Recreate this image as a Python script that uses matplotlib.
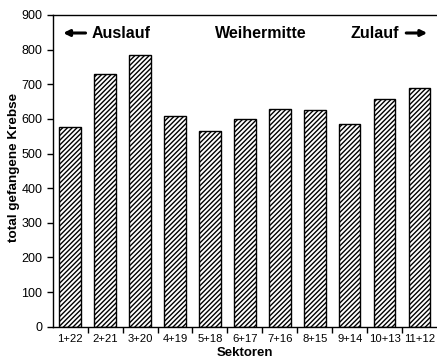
import matplotlib.pyplot as plt
import numpy as np

plt.rcParams['font.family'] = ['Liberation Sans', 'DejaVu Sans']

sektoren = ["1+22", "2+21", "3+20", "4+19", "5+18", "6+17",
            "7+16", "8+15", "9+14", "10+13", "11+12"]
krebse = [578, 729, 784, 609, 564, 601, 630, 627, 584, 658, 688]

fig = plt.figure(figsize=(4.37, 3.63), dpi=100)
ax = fig.add_axes([0.1206, 0.1, 0.8794, 0.8587])

x = np.arange(len(sektoren))
plt.rcParams['hatch.linewidth'] = 1.0
ax.bar(x, krebse, width=0.62, color="white", edgecolor="black",
       linewidth=1.0, hatch="///////")

ax.set_xlim(-0.5, len(sektoren) - 0.5)
ax.set_ylim(0, 900)
ax.set_yticks(range(0, 901, 100))
ax.tick_params(axis="y", labelsize=9, direction="out", length=4, width=1)
ax.set_xticks(x)
ax.set_xticklabels(sektoren)
ax.tick_params(axis="x", which="major", length=0, labelsize=8.1, pad=5)
ax.set_xticks(np.arange(0.5, len(sektoren) - 0.5, 1), minor=True)
ax.tick_params(axis="x", which="minor", length=4, width=1, direction="out")

ax.spines["right"].set_visible(False)
for s in ["left", "bottom", "top"]:
    ax.spines[s].set_linewidth(1.0)

ax.set_ylabel("total gefangene Krebse", fontsize=9.7, fontweight="bold")
ax.yaxis.set_label_coords(-0.084, 0.51)
ax.set_xlabel("Sektoren", fontsize=9.5, fontweight="bold")
ax.xaxis.set_label_coords(0.5, -0.066)

# Orientierungs-Beschriftung
ypos = 848
arrow = dict(arrowstyle="-|>", lw=2.2, color="black", mutation_scale=9)
ax.annotate("", xy=(-0.28, ypos), xytext=(0.52, ypos), arrowprops=arrow)
ax.text(0.62, ypos, "Auslauf", fontsize=11.5, fontweight="bold", va="center", ha="left")
ax.text(5.45, ypos, "Weihermitte", fontsize=11.5, fontweight="bold", va="center", ha="center")
ax.text(9.42, ypos, "Zulauf", fontsize=11.5, fontweight="bold", va="center", ha="right")
ax.annotate("", xy=(10.3, ypos), xytext=(9.54, ypos), arrowprops=arrow)

fig.savefig("out.png", dpi=100)
